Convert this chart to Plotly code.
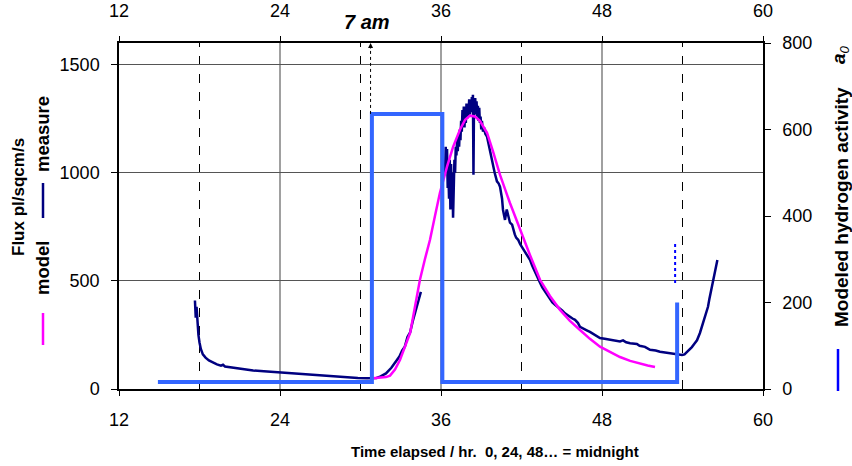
import plotly.graph_objects as go

# --- measured flux (pl/sqcm/s), two recorded segments ---
meas_hr_a = [17.66, 17.72, 17.78, 17.85, 17.92, 18.0, 18.1, 18.25, 18.45, 18.7, 19.0, 19.3,
             19.6, 19.75, 19.9, 20.3, 20.8, 21.3, 22.0, 22.8, 23.5, 24.2, 25.0, 25.8,
             26.6, 27.4, 28.2, 29.0, 29.8, 30.5, 30.85, 31.2, 31.5, 31.9, 32.3, 32.7,
             32.9, 33.1, 33.3, 33.5, 33.7, 33.9, 34.05, 34.2, 34.35, 34.5]
meas_val_a = [409, 330, 380, 290, 250, 215, 185, 160, 145, 132, 122, 114,
              108, 112, 104, 100, 95, 90, 86, 82, 79, 75, 71, 67,
              63, 59, 56, 53, 51, 50, 49, 51, 58, 72, 98, 130,
              150, 178, 195, 240, 262, 315, 345, 385, 415, 449]

meas_hr_b = [36.3, 36.35, 36.4, 36.45, 36.5, 36.55, 36.6, 36.65, 36.7, 36.75, 36.8, 36.85,
             36.9, 36.95, 37.0, 37.05, 37.1, 37.15, 37.2, 37.25, 37.3, 37.35, 37.4, 37.45,
             37.5, 37.55, 37.6, 37.65, 37.7, 37.75, 37.8, 37.85, 37.9, 37.95, 38.0, 38.05,
             38.1, 38.15, 38.2, 38.25, 38.3, 38.35, 38.38, 38.42, 38.46, 38.5, 38.55, 38.6,
             38.65, 38.7, 38.75, 38.8, 38.85, 38.9, 38.95, 39.0, 39.05, 39.13, 39.2, 39.3,
             39.43, 39.55, 39.65, 39.87, 40.0,
             40.17, 40.3, 40.4, 40.55, 40.62, 40.77, 40.9, 41.0, 41.14, 41.3, 41.37, 41.5,
             41.6, 41.75, 41.9, 42.1, 42.27, 42.45, 42.63, 42.8, 43.0, 43.2, 43.38, 43.55,
             43.75, 43.95, 44.12, 44.3, 44.5, 44.7, 44.87, 45.05, 45.24, 45.45, 45.61, 45.8,
             45.99, 46.2, 46.36, 46.55, 46.73, 46.9, 47.1, 47.3, 47.48, 47.65, 47.85, 48.2,
             48.6, 49.0, 49.34, 49.57, 49.8, 50.1, 50.4, 50.6, 50.8, 51.2, 51.58, 52.0,
             52.32, 52.7, 53.07, 53.4, 53.66, 53.96, 54.15, 54.33, 54.5, 54.7, 54.9, 55.08,
             55.3, 55.45, 55.6, 55.75, 55.9, 56.0, 56.12, 56.27, 56.4, 56.5, 56.6]
meas_val_b = [1000, 1120, 1050, 1110, 930, 1000, 880, 1060, 830, 1040, 860, 1000,
              792, 950, 1060, 1000, 1120, 1080, 1153, 1100, 1180, 1120, 1200, 1150,
              1240, 1190, 1290, 1220, 1306, 1210, 1280, 1230, 1320, 1250, 1300, 1260,
              1340, 1270, 1330, 1280, 1350, 1300, 1361, 991, 1320, 1280, 1345, 1270,
              1330, 1260, 1310, 1240, 1300, 1230, 1260, 1200, 1240, 1190, 1210, 1180,
              1167, 1130, 1100, 1028, 1000,
              960, 950, 935, 880, 829, 782, 830, 800, 769, 760, 740, 715,
              700, 690, 670, 650, 630, 612, 597, 570, 540, 515, 491, 470,
              450, 430, 412, 400, 390, 380, 375, 362, 350, 340, 333, 326,
              320, 306, 287, 280, 275, 270, 264, 256, 248, 242, 236, 232,
              228, 224, 220, 225, 216, 212, 210, 208, 200, 195, 181, 178,
              172, 169, 167, 163, 160, 157, 160, 170, 180, 194, 210, 225,
              259, 290, 320, 350, 380, 415, 450, 505, 530, 560, 597]

# --- model flux ---
model_hr = [30.93, 31.45, 31.9, 32.2, 32.57, 32.94, 33.3, 33.7, 34.06, 34.43, 34.8, 35.18,
            35.55, 35.92, 36.45, 36.9, 37.42, 37.8, 38.16, 38.53, 38.9, 39.43, 39.87, 40.4,
            41.14, 41.9, 42.63, 43.38, 44.12, 44.87, 45.61, 46.36, 47.1, 47.85, 48.6, 49.34,
            50.1, 50.83, 51.4, 51.95]
model_val = [50, 52, 55, 62, 90, 134, 195, 259, 380, 505, 600, 690,
             800, 907, 1028, 1120, 1200, 1245, 1264, 1260, 1240, 1185, 1100, 990,
             860, 736, 620, 505, 430, 366, 315, 273, 232, 196, 170, 148,
             130, 117, 109, 102]

# --- modeled hydrogen activity a0 (right axis) ---
act_hr = [14.9, 30.85, 30.85, 36.1, 36.1, 53.6, 53.6]
act_val = [16, 16, 636, 636, 16, 16, 200]
act_dot_hr = [53.45, 53.45]
act_dot_val = [245, 338]

x_ticks = [12, 24, 36, 48, 60]
y_left_ticks = [0, 500, 1000, 1500]
y_right_ticks = [0, 200, 400, 600, 800]
day_marks = [18, 30, 42, 54]      # dashed guides
grid_hours = [24, 36, 48]          # solid vertical grid

NAVY = "#000080"
MAGENTA = "#FF00FF"
STEP = "#3366FF"
FONT = "Liberation Sans"

fig = go.Figure()
fig.add_trace(go.Scatter(x=meas_hr_a, y=meas_val_a, mode="lines",
                         line=dict(color=NAVY, width=2.5), showlegend=False))
fig.add_trace(go.Scatter(x=meas_hr_b, y=meas_val_b, mode="lines",
                         line=dict(color=NAVY, width=2.5), showlegend=False))
fig.add_trace(go.Scatter(x=act_hr, y=act_val, mode="lines", yaxis="y2",
                         line=dict(color=STEP, width=4), showlegend=False))
fig.add_trace(go.Scatter(x=act_dot_hr, y=act_dot_val, mode="lines", yaxis="y2",
                         line=dict(color="#0000FF", width=2, dash="dot"), showlegend=False))
fig.add_trace(go.Scatter(x=model_hr, y=model_val, mode="lines",
                         line=dict(color=MAGENTA, width=2.5), showlegend=False))
# anchor trace for the top hour axis
fig.add_trace(go.Scatter(x=[x_ticks[0], x_ticks[-1]], y=[None, None], xaxis="x2",
                         mode="lines", showlegend=False, hoverinfo="skip"))

shapes = []
for h in grid_hours:
    shapes.append(dict(type="line", xref="x", yref="paper", x0=h, x1=h, y0=0, y1=1,
                       line=dict(color="#808080", width=1.5), layer="below"))
for h in day_marks:
    shapes.append(dict(type="line", xref="x", yref="paper", x0=h, x1=h, y0=0, y1=1,
                       line=dict(color="black", width=1, dash="dash"), layer="below"))
# 7 am pointer
shapes.append(dict(type="line", xref="x", yref="y2", x0=30.75, x1=30.75, y0=636, y1=792,
                   line=dict(color="black", width=1, dash="dot")))
# line samples next to the axis titles
PW, PH = 644.0, 346.0
def px(x):
    return (x - 119) / PW
def py(y):
    return (389 - y) / PH
shapes.append(dict(type="line", xref="paper", yref="paper", x0=px(43), x1=px(43),
                   y0=py(183), y1=py(218), line=dict(color=NAVY, width=2.5)))
shapes.append(dict(type="line", xref="paper", yref="paper", x0=px(43), x1=px(43),
                   y0=py(313), y1=py(345), line=dict(color=MAGENTA, width=2.5)))
shapes.append(dict(type="line", xref="paper", yref="paper", x0=px(838), x1=px(838),
                   y0=py(349), y1=py(391), line=dict(color="#0000FF", width=2.5)))

tfont = dict(family=FONT, size=18, color="black")

def label(text, x, y, size, angle=0):
    return dict(text=text, xref="paper", yref="paper", x=px(x), y=py(y),
                xanchor="center", yanchor="middle", textangle=angle,
                showarrow=False, font=dict(family=FONT, size=size, color="black"))

annotations = [
    label("<b>Time elapsed / hr.  0, 24, 48… = midnight</b>", 495, 451, 15),
    label("<b>Flux pl/sqcm/s</b>", 18, 197, 17, -90),
    label("<b>measure</b>", 42, 134, 18.5, -90),
    label("<b>model</b>", 42, 268, 18.5, -90),
    label("<b>Modeled hydrogen activity</b>", 841, 207, 19, -90),
    label("<b><i>a</i></b><sub><i>0</i></sub>", 840, 55, 19, -90),
    label("<b><i>7 am</i></b>", 367, 22, 20),
    dict(text="", xref="x", yref="paper", x=30.75, y=1.0, ax=0, ay=7, showarrow=True,
         arrowhead=2, arrowsize=1, arrowwidth=1, arrowcolor="black"),
]

axis_common = dict(showgrid=False, zeroline=False, showline=True, linecolor="black",
                   linewidth=1.5, ticks="outside", tickcolor="black", tickfont=tfont,
                   automargin=False)

fig.update_layout(
    width=852, height=466,
    margin=dict(l=119, r=89, t=43, b=77, pad=0, autoexpand=False),
    paper_bgcolor="white", plot_bgcolor="white",
    shapes=shapes, annotations=annotations,
    xaxis=dict(range=[12, 60], tickvals=x_ticks, ticklen=5, ticklabelstandoff=9,
               **axis_common),
    xaxis2=dict(range=[12, 60], tickvals=x_ticks, overlaying="x", side="top",
                ticklen=5, ticklabelstandoff=12, **axis_common),
    yaxis=dict(range=[0, 1600], tickvals=y_left_ticks, ticklen=6, ticklabelstandoff=8,
               **{**axis_common, "showgrid": True}, gridcolor="#555555", gridwidth=1),
    yaxis2=dict(range=[0, 800], tickvals=y_right_ticks, overlaying="y", side="right",
                ticklen=6, ticklabelstandoff=8, **axis_common),
)

fig.write_html("out.html")
